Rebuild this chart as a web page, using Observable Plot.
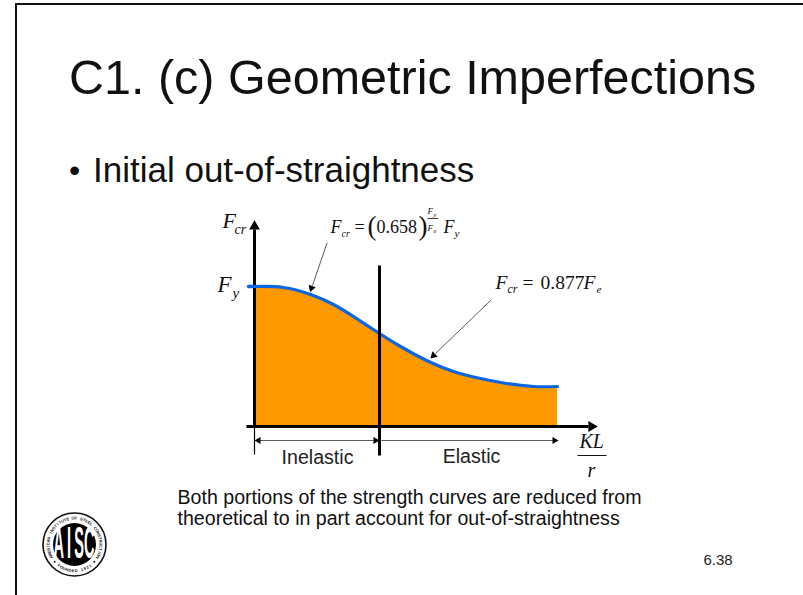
<!DOCTYPE html>
<html><head><meta charset="utf-8">
<script src="https://cdn.jsdelivr.net/npm/d3@7"></script>
<script src="https://cdn.jsdelivr.net/npm/@observablehq/plot@0.6"></script>
<style>
html,body{margin:0;padding:0;background:#fff;overflow:hidden}
#slide{position:relative;width:803px;height:595px;overflow:hidden;font-family:"Liberation Sans",Arial,sans-serif;color:#111}
#frame{position:absolute;left:15px;top:3px;width:800px;height:600px;border:2px solid #111;box-sizing:border-box}
#head{position:relative;height:192px}
#title{position:absolute;left:69px;top:49px;margin:0;font-size:48.5px;font-weight:400;white-space:nowrap;line-height:56px}
#bullet{position:absolute;left:69px;top:151px;font-size:32px;white-space:nowrap;line-height:38px}
#bullet span{font-size:35px;position:absolute;left:24px;top:0}
#chart{position:relative;display:block}
svg{display:block;background:transparent}
</style></head>
<body><div id="slide"><div id="frame"></div>
<div id="head"><h1 id="title">C1. (c) Geometric Imperfections</h1>
<div id="bullet">•<span>Initial out-of-straightness</span></div></div>
<div id="chart"></div></div>
<script>
// slenderness KL/r and strength Fcr
const kl  = [0, 29, 56, 79, 102, 125, 146, 172, 199, 226, 252, 279, 303];
const fcr = [140, 139, 132, 122, 108, 93, 80, 66, 55, 48, 43, 40, 40];
const curve = kl.map((x, i) => ({x, y: fcr[i]}));
const transition = 125;
const stub = [{x: -6, y: 140}, {x: 0, y: 140}];

// [text, x, y of baseline, size, italic]
const labels = [
  ["F", -32, 199, 22, 1], ["cr", -20, 193, 14, 1],
  ["F", -37, 135, 23, 1], ["y", -22, 129, 15, 1],
  ["F", 76, 194, 18, 1], ["cr", 87, 190, 10, 1], ["=", 100, 194, 18, 0],
  ["(", 113, 192, 27, 0], ["0.658", 122, 194, 18, 0], [")", 164, 192, 27, 0],
  ["F", 173, 213, 9, 1], ["y", 179, 210, 7, 1],
  ["F", 173, 196, 9, 1], ["e", 179, 194, 7, 1],
  ["F", 189, 194, 18, 1], ["y", 200, 190, 11, 1],
  ["F", 241, 138, 19.5, 1], ["cr", 253, 134, 12, 1], ["=", 268, 138, 19.5, 0],
  ["0.877", 286, 138, 19.5, 0], ["F", 329, 138, 19.5, 1], ["e", 342, 134, 11, 1],
  ["KL", 325, -21, 20, 1], ["r", 333, -50, 20, 1]
];
const spans = [["Inelastic", 63, -31, 19.6], ["Elastic", 217, -30, 19.6]];
const note = ["Both portions of the strength curves are reduced from", "theoretical to in part account for out-of-straightness"];
const pageNumber = "6.38";
const seal = {x: -180, y: -118};
const sealTop = "AMERICAN INSTITUTE OF STEEL CONSTRUCTION";
const sealBottom = "FOUNDED 1921";
const sealLetters = ["A", "I", "S", "C"];

const serif = "Liberation Serif, Times New Roman, serif";
const sans = "Liberation Sans, Arial, sans-serif";
const text = ([t, x, y, s, it]) => Plot.text([{x, y}], {x: "x", y: "y", text: () => t, fontSize: s,
  fontFamily: serif, fontStyle: it ? "italic" : "normal", textAnchor: "start", lineAnchor: "middle", dy: -0.32 * s, fill: "#111"});
const head = (x, y, rotate, r = 3.2) => Plot.dot([{x, y}], {x: "x", y: "y", symbol: "triangle", r, rotate, fill: "#000", stroke: "none"});
const seg = (x1, y1, x2, y2, strokeWidth, stroke = "#000") => Plot.link([{x1, y1, x2, y2}], {x1: "x1", y1: "y1", x2: "x2", y2: "y2", stroke, strokeWidth});

// Seal letters are placed around the ring by angle
const ring = (str, mid, step, r, flip) => Array.from(str).map((c, i) => {
  const a = (mid + (i - (str.length - 1) / 2) * step * (flip ? -1 : 1)) * Math.PI / 180;
  return {c, x: seal.x + r * Math.sin(a), y: seal.y + r * Math.cos(a), rot: (a * 180 / Math.PI) + (flip ? 180 : 0)};
});
const narrow = 0.33;
const squeeze = (index, scales, values, dims, context, next) => {
  const g = next(index, scales, values, dims, context);
  const cx = scales.x(seal.x), cy = scales.y(seal.y);
  g.setAttribute("transform", `translate(${cx},${cy}) scale(${narrow},1) translate(${-cx},${-cy})`);
  return g;
};

const chart = Plot.plot({
  width: 803, height: 403, margin: 0,
  x: {domain: [-254, 549], range: [0, 803], axis: null},
  y: {domain: [-169, 234], range: [403, 0], axis: null},
  marks: [
    Plot.areaY(curve, {x: "x", y1: 0, y2: "y", fill: "#FF9900", curve: "natural"}),
    seg(0, -28, 0, 0, 1.2),
    seg(0, 0, 0, 197, 3), head(0, 200, 0, 4),
    seg(-8, 0, 334, 0, 3), head(337, 0, 90, 4),
    Plot.line(stub, {x: "x", y: "y", stroke: "#0B66E4", strokeWidth: 3.5}),
    Plot.line(curve, {x: "x", y: "y", stroke: "#0B66E4", strokeWidth: 3.2, curve: "natural"}),
    seg(transition, -29, transition, 161, 3),
    seg(2, -14, transition - 2, -14, 0.8, "#333"), head(4, -14, -90, 2.6), head(transition - 4, -14, 90, 2.6),
    seg(transition + 2, -14, 300, -14, 0.8, "#333"), head(300, -14, 90, 2.6),
    seg(72.7, 184, 58, 141, 0.8, "#333"), head(57, 138.5, 199, 2.8),
    seg(236.7, 126.5, 181, 73, 0.8, "#333"), head(179, 71, 226, 2.8),
    seg(173, 208, 184, 208, 0.8, "#111"),
    seg(323, -29, 352, -29, 1, "#111"),
    ...labels.map(text),
    ...spans.map(([t, x, y, s]) => Plot.text([{x, y}], {x: "x", y: "y", text: () => t, fontSize: s, fontFamily: sans, textAnchor: "middle", fill: "#222", lineAnchor: "middle"})),
    ...note.map((t, i) => Plot.text([{x: -77, y: -71 - i * 21}], {x: "x", y: "y", text: () => t, fontSize: 19.6, fontFamily: sans, textAnchor: "start", lineAnchor: "middle", fill: "#111"})),
    Plot.text([{x: 449, y: -134}], {x: "x", y: "y", text: () => pageNumber, fontSize: 15, fontFamily: sans, textAnchor: "start", lineAnchor: "middle", fill: "#222"}),
    // seal
    Plot.dot([seal], {x: "x", y: "y", r: 31.5, fill: "#fff", stroke: "#111", strokeWidth: 1.6}),
    Plot.dot([seal], {x: "x", y: "y", r: 21.5, fill: "#000", stroke: "none"}),
    Plot.text(ring(sealTop, 0, 6.1, 26.3, false), {x: "x", y: "y", text: "c", rotate: "rot", fontSize: 4, fontWeight: 700, fontFamily: sans, fill: "#111"}),
    Plot.text(ring(sealBottom, 180, 6.6, 26.3, true), {x: "x", y: "y", text: "c", rotate: "rot", fontSize: 4, fontWeight: 700, fontFamily: sans, fill: "#111"}),
    Plot.dot(ring("••", 180, 98, 26.3, true), {x: "x", y: "y", r: 1, fill: "#111"}),
    Plot.text(sealLetters.map((c, i) => ({c, x: seal.x + (i - 1.5) * 10.2 / narrow, y: seal.y})), {x: "x", y: "y", text: "c", fontSize: 44, fontFamily: sans, fontWeight: 700, fill: "#fff", render: squeeze})
  ]
});
document.getElementById("chart").append(chart);
</script></body></html>
